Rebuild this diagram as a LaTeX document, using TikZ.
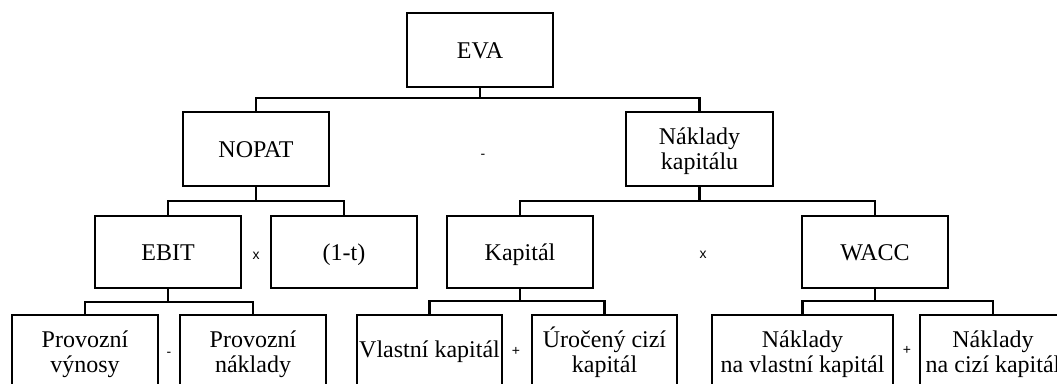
\documentclass[tikz,border=0pt]{standalone}
\usepackage{fontspec}
\setmainfont{Liberation Serif}
\newfontfamily\opfont{Liberation Sans}
\newcommand{\twolines}[2]{\begin{tabular}[t]{@{}c@{}}#1\\#2\end{tabular}}
\begin{document}
\begin{tikzpicture}[x=1pt,y=-1pt,
  box/.style={draw=black,line width=2.3pt,fill=white,inner sep=0pt,
    minimum width=146pt,minimum height=73pt,
    text height=16pt,text depth=0pt,
    font=\fontsize{24}{25}\selectfont},
  boxtwo/.style={box,text depth=25pt},
  conn/.style={draw=black,line width=2.2pt},
  op/.style={font=\opfont\fontsize{14}{14}\selectfont,inner sep=0pt,anchor=base}]
\clip (0,0) rectangle (1057,383);
\fill[white] (0,0) rectangle (1057,383);
% level 1
\node[box,minimum height=74pt] (eva) at (480,50) {EVA};
% level 2
\node[box,minimum height=74pt] (nopat) at (256,149) {NOPAT};
\node[boxtwo,minimum width=147pt,minimum height=74pt] (nk) at (699.5,149) {\twolines{Náklady}{kapitálu}};
% level 3
\node[box,minimum height=72pt] (ebit) at (168,252) {EBIT};
\node[box,minimum height=72pt] (tax) at (344,252) {(1-t)};
\node[box,minimum height=72pt] (kap) at (520,252) {Kapitál};
\node[box,minimum height=72pt] (wacc) at (875,252) {WACC};
% level 4
\node[boxtwo] (pv) at (85,351.5) {\twolines{Provozní}{výnosy}};
\node[boxtwo] (pn) at (253,351.5) {\twolines{Provozní}{náklady}};
\node[box,minimum width=145pt,text height=11pt] (vk) at (429.5,351.5) {Vlastní kapitál};
\node[boxtwo,minimum width=145pt] (uck) at (604.5,351.5) {\twolines{Úročený cizí}{kapitál}};
\node[boxtwo,minimum width=181pt] (nvk) at (802.5,351.5) {\twolines{Náklady}{na vlastní kapitál}};
\node[boxtwo] (nck) at (993,351.5) {\twolines{Náklady}{na cizí kapitál}};
% connectors
\draw[conn] (eva.south) -- ++(0,10) coordinate (j1);
\draw[conn] (j1) -| (nopat.north);
\draw[conn] (j1) -| (nk.north);
\draw[conn] (nopat.south) -- ++(0,14) coordinate (j2);
\draw[conn] (j2) -| (ebit.north);
\draw[conn] (j2) -| (tax.north);
\draw[conn] (nk.south) -- ++(0,14) coordinate (j3);
\draw[conn] (j3) -| (kap.north);
\draw[conn] (j3) -| (wacc.north);
\draw[conn] (ebit.south) -- ++(0,13) coordinate (j4);
\draw[conn] (j4) -| (pv.north);
\draw[conn] (j4) -| (pn.north);
\draw[conn] (kap.south) -- ++(0,12) coordinate (j5);
\draw[conn] (j5) -| (vk.north);
\draw[conn] (j5) -| (uck.north);
\draw[conn] (wacc.south) -- ++(0,12) coordinate (j6);
\draw[conn] (j6) -| (nvk.north);
\draw[conn] (j6) -| (nck.north);
% operators
\node[op] (o1) at (483,158) {-};
\node[op] (o2) at (256,259.5) {x};
\node[op] (o3) at (703,258.5) {x};
\node[op] (o4) at (169,356) {-};
\node[op] (o5) at (516,355.5) {+};
\node[op] (o6) at (907,354.5) {+};
\end{tikzpicture}
\end{document}
